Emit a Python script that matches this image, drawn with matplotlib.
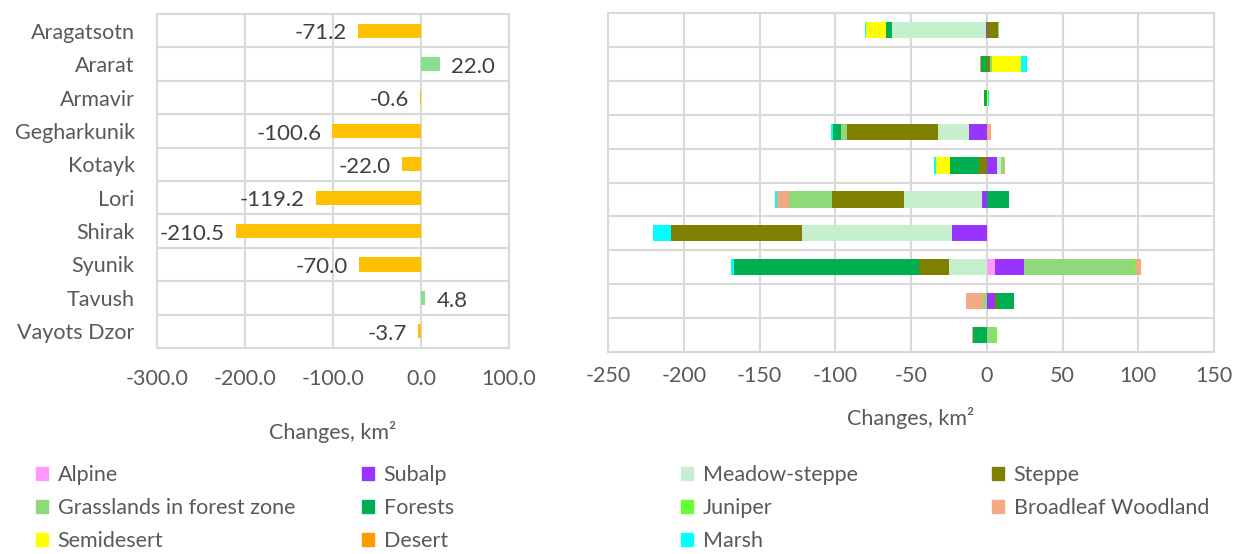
import numpy as np
import matplotlib.pyplot as plt
from matplotlib.patches import Patch

plt.rcParams['font.family'] = ['Lato', 'DejaVu Sans']

regions = ['Aragatsotn', 'Ararat', 'Armavir', 'Gegharkunik', 'Kotayk',
           'Lori', 'Shirak', 'Syunik', 'Tavush', 'Vayots Dzor']
net_change = [-71.2, 22.0, -0.6, -100.6, -22.0, -119.2, -210.5, -70.0, 4.8, -3.7]

# per-class changes, km2
alpine = [0, 0, 0, 0, 0, 0, 0, 5.5, 0, 0]
subalp = [-0.8, 0, 0, -11.5, 7.0, -2.9, -22.8, 19.1, 5.5, 0]
meadow_steppe = [-62.0, 0, 0, -20.5, 2.6, -51.4, -99.0, -24.7, 0, 0]
steppe = [7.7, 2.2, 0, -60.0, -4.8, -48.1, -86.9, -20.3, 1.0, 0]
grass_forest = [0.4, 1.5, 0.3, -4.4, 1.8, -28.0, 0, 71.9, -2.2, 5.5]
forests = [-4.0, -3.7, -2.0, -5.3, -19.3, 14.5, 0, -121.8, 11.8, -8.8]
juniper = [0, 0, 0, 0, 0, 0, 0, 1.1, 0, 1.1]
broadleaf = [0, 0, 0, 2.6, 0.7, -8.2, 0, 4.0, -11.6, -0.7]
semidesert = [-12.6, 18.9, 0.6, 0, -9.7, 0, 0, 0, 0, 0]
desert = [0, -0.7, 0, 0, 0, 0, 0, 0, 0, 0]
marsh = [-1.1, 3.7, 0.6, -1.3, -0.7, -0.9, -11.7, -1.8, 0, 0]

class_names = ['Alpine', 'Subalp', 'Meadow-steppe', 'Steppe', 'Grasslands in forest zone',
               'Forests', 'Juniper', 'Broadleaf Woodland', 'Semidesert', 'Desert', 'Marsh']
class_values = [alpine, subalp, meadow_steppe, steppe, grass_forest, forests,
                juniper, broadleaf, semidesert, desert, marsh]
class_colors = ['#FF99FF', '#9933FF', '#C6EFCE', '#808000', '#8FD97A', '#00B050',
                '#66FF33', '#F2AA84', '#FFFF00', '#FF9900', '#00FFFF']

left_ticks = [-300, -200, -100, 0, 100]
right_ticks = [-250, -200, -150, -100, -50, 0, 50, 100, 150]

fs = 15.5
txt = '#595959'
grid = '#D9D9D9'

fig = plt.figure(figsize=(12.34, 5.54), dpi=100)
ax1 = fig.add_axes([157 / 1234, 1 - 348 / 554, 352 / 1234, 334 / 554])
ax2 = fig.add_axes([608 / 1234, 1 - 352 / 554, 606 / 1234, 339 / 554])

y = np.arange(len(regions))


def style(ax, ticks, fmt, pad):
    ax.set_xlim(ticks[0], ticks[-1])
    ax.set_ylim(len(regions) - 0.5, -0.5)
    ax.set_xticks(ticks)
    ax.set_xticklabels([fmt.format(t) for t in ticks])
    ax.set_yticks(y)
    ax.set_yticks(np.arange(-0.5, len(regions)), minor=True)
    ax.tick_params(axis='both', which='both', length=0, labelsize=fs, labelcolor=txt)
    ax.tick_params(axis='x', pad=pad)
    ax.grid(True, axis='x', which='major', color=grid, lw=1.5)
    ax.grid(True, axis='y', which='minor', color=grid, lw=1.5)
    ax.set_axisbelow(True)
    for s in ax.spines.values():
        s.set_color(grid)
        s.set_linewidth(1.5)
    ax.set_xlabel('Changes, km²', fontsize=fs, color=txt)


# left panel: net change
bar_colors = ['#FFC000' if v < 0 else '#86E08C' for v in net_change]
ax1.barh(y, net_change, height=0.42, color=bar_colors)
for yi, v in zip(y, net_change):
    off = -8 if v < 0 else 8
    ax1.annotate(f'{v:.1f}', (v, yi), xytext=(off, -2), textcoords='offset points',
                 ha='right' if v < 0 else 'left', va='center', fontsize=16, color='#404040')
style(ax1, left_ticks, '{:.1f}', 15)
ax1.set_yticklabels(regions)
ax1.tick_params(axis='y', pad=16)
ax1.xaxis.labelpad = 23

# right panel: stacked changes by class
pos = np.zeros(len(regions))
neg = np.zeros(len(regions))
for name, vals, col in zip(class_names, class_values, class_colors):
    v = np.array(vals, dtype=float)
    start = np.where(v >= 0, pos, neg)
    ax2.barh(y, v, left=start, height=0.48, color=col, label=name)
    pos += np.clip(v, 0, None)
    neg += np.clip(v, None, 0)
style(ax2, right_ticks, '{:d}', 10)
ax2.set_yticklabels([])
ax2.xaxis.labelpad = 15

# legend laid out in 4 columns, row-wise
handles = [Patch(color=c) for c in class_colors]
col_x = [36, 362, 681, 992]
for c, x in enumerate(col_x):
    idx = list(range(c, len(class_names), 4))
    fig.legend([handles[i] for i in idx], [class_names[i] for i in idx],
               loc='upper left', bbox_to_anchor=(x / 1234, 1 - 465 / 554),
               frameon=False, fontsize=fs, labelcolor=txt, borderpad=0,
               borderaxespad=0, handlelength=0.55, handleheight=0.55,
               handletextpad=0.45, labelspacing=0.6)

fig.savefig('out.png', dpi=100)
